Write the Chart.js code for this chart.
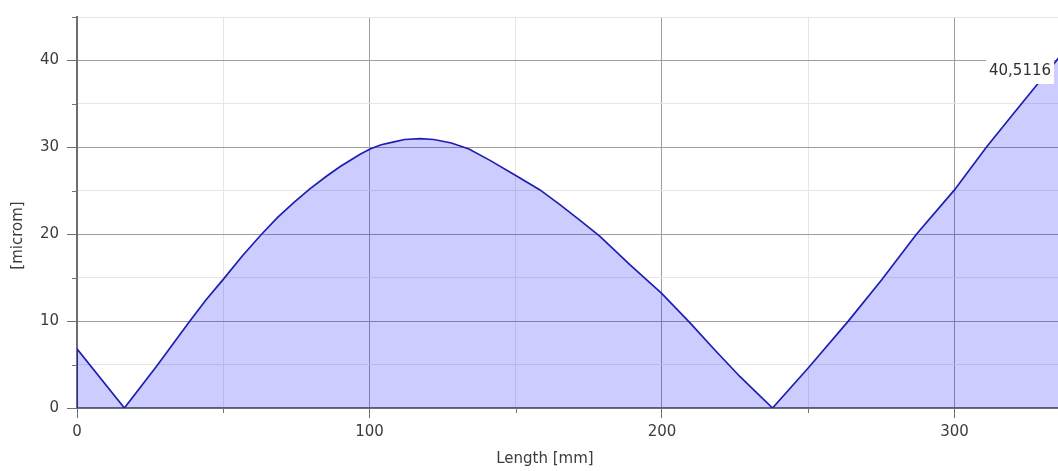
<!DOCTYPE html>
<html>
<head>
<meta charset="utf-8">
<script src="https://cdn.jsdelivr.net/npm/chart.js@4.4.1/dist/chart.umd.min.js"></script>
<style>
  html, body { margin: 0; padding: 0; background: #fff; overflow: hidden; }
  #wrap { width: 1058px; height: 471px; }
</style>
</head>
<body>
<div id="wrap"><canvas id="profile"></canvas></div>
<script>
// profile, length in mm / deviation in microm
const lengthMm = [0, 0, 16.2, 27.2, 38.6, 44, 50, 56.5, 63.1, 68.5, 74, 79.5, 85.4, 90, 96.8, 100.2, 104, 108, 112,
  117.3, 122, 128, 134, 141.2, 150.3, 158.3, 165.1, 172, 178.8, 189, 199.9, 209.6, 218, 226.7, 237.8, 250, 263.7,
  275, 287, 300, 310.9, 320, 328.7, 336.1]
const microm = [0, 6.8, 0, 4.8, 10, 12.4, 14.8, 17.5, 20, 21.9, 23.6, 25.2, 26.7, 27.8, 29.2, 29.8, 30.3, 30.6, 30.9,
  31.0, 30.9, 30.5, 29.8, 28.5, 26.7, 25.1, 23.4, 21.6, 19.75, 16.5, 13.2, 9.8, 6.7, 3.6, 0, 4.6, 10,
  14.7, 20, 25.1, 30, 33.8, 37.4, 40.5116]

const xRange = [0, 335.4]
const yRange = [0, 45]
const xStep = 50
const xLabelEvery = 100
const yStep = 5
const yLabelEvery = 10
const lastValueLabel = '40,5116'
const xTitle = 'Length [mm]'
const yTitle = '[microm]'

const font = { family: 'DejaVu Sans', size: 15 }
const textColor = '#3c3c3c'
const isMajor = (v, every) => Math.abs(v % every) < 1e-6

function gridColor(every) {
  return (ctx) => (ctx.tick && isMajor(ctx.tick.value, every) ? '#9e9e9e' : '#e6e6e6')
}
function tickColor(every) {
  return (ctx) => (ctx.tick && isMajor(ctx.tick.value, every) ? '#707070' : 'rgba(0,0,0,0)')
}

// short ticks for the unlabelled steps
const minorTicks = {
  id: 'minorTicks',
  afterDraw(chart) {
    const { ctx, chartArea } = chart
    const { x, y } = chart.scales
    ctx.save()
    ctx.strokeStyle = '#707070'
    ctx.lineWidth = 1
    ctx.beginPath()
    x.ticks.forEach((t) => {
      if (isMajor(t.value, xLabelEvery)) return
      const px = Math.round(x.getPixelForValue(t.value)) + 0.5
      ctx.moveTo(px, chartArea.bottom)
      ctx.lineTo(px, chartArea.bottom + 5)
    })
    y.ticks.forEach((t) => {
      if (isMajor(t.value, yLabelEvery)) return
      const py = Math.round(y.getPixelForValue(t.value)) + 0.5
      ctx.moveTo(chartArea.left - 5, py)
      ctx.lineTo(chartArea.left, py)
    })
    ctx.stroke()
    ctx.restore()
  }
}

// axis titles sit on the centre of the whole picture, not the plot
const axisTitles = {
  id: 'axisTitles',
  afterDraw(chart) {
    const { ctx, chartArea } = chart
    ctx.save()
    ctx.fillStyle = textColor
    ctx.font = `${font.size}px ${font.family}`
    ctx.textAlign = 'center'
    ctx.textBaseline = 'middle'
    ctx.fillText(xTitle, chartArea.left + (chartArea.right - chartArea.left) * 0.477, chart.height - 12)
    ctx.translate(18, chart.height / 2)
    ctx.rotate(-Math.PI / 2)
    ctx.fillText(yTitle, 0, 0)
    ctx.restore()
  }
}

// value box beside the last point
const lastValue = {
  id: 'lastValue',
  afterDatasetsDraw(chart) {
    const { ctx } = chart
    const pts = chart.getDatasetMeta(0).data
    const p = pts[pts.length - 1]
    ctx.save()
    ctx.font = `${font.size}px ${font.family}`
    const w = ctx.measureText(lastValueLabel).width
    const right = p.x - 9
    const cy = p.y + 15
    ctx.fillStyle = '#ffffff'
    ctx.fillRect(right - w - 3, cy - 13, w + 6, 26)
    ctx.fillStyle = '#303030'
    ctx.textAlign = 'right'
    ctx.textBaseline = 'middle'
    ctx.fillText(lastValueLabel, right, cy)
    ctx.restore()
  }
}

const points = lengthMm.map((x, i) => ({ x, y: microm[i] }))

new Chart(document.getElementById('profile'), {
  type: 'line',
  data: {
    datasets: [{
      data: points,
      borderColor: '#1e1eb0',
      borderWidth: 1.7,
      backgroundColor: 'rgba(0, 0, 255, 0.2)',
      fill: 'origin',
      pointRadius: 0,
      tension: 0
    }]
  },
  options: {
    responsive: true,
    maintainAspectRatio: false,
    animation: false,
    layout: { padding: { top: 17, right: 0, bottom: 0, left: 0 } },
    plugins: { legend: { display: false }, tooltip: { enabled: false } },
    scales: {
      x: {
        type: 'linear',
        min: xRange[0],
        max: xRange[1],
        afterFit: (s) => { s.height = 63 },
        border: { color: '#6e6e6e', width: 2 },
        grid: { color: gridColor(xLabelEvery), tickColor: tickColor(xLabelEvery), tickLength: 10, lineWidth: 1 },
        ticks: {
          stepSize: xStep,
          includeBounds: false,
          autoSkip: false,
          maxRotation: 0,
          padding: 5,
          color: textColor,
          font,
          callback: (v) => (isMajor(v, xLabelEvery) ? v : '')
        }
      },
      y: {
        min: yRange[0],
        max: yRange[1],
        afterFit: (s) => { s.width = 77 },
        border: { color: '#6e6e6e', width: 2 },
        grid: { color: gridColor(yLabelEvery), tickColor: tickColor(yLabelEvery), tickLength: 10, lineWidth: 1 },
        ticks: {
          stepSize: yStep,
          includeBounds: false,
          autoSkip: false,
          padding: 8,
          color: textColor,
          font,
          callback: (v) => (isMajor(v, yLabelEvery) ? v : '')
        }
      }
    }
  },
  plugins: [minorTicks, axisTitles, lastValue]
})
</script>
</body>
</html>
